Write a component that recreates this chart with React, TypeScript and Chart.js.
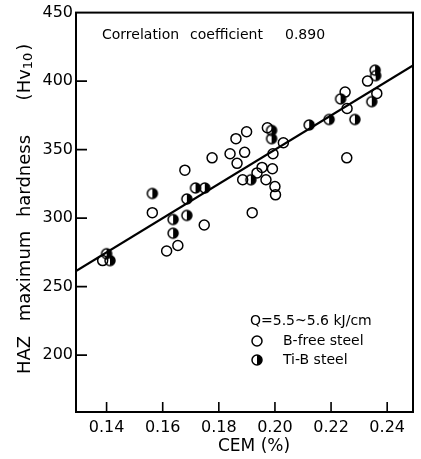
import React, { useEffect, useRef } from "react";
import { Chart, registerables } from "chart.js";

Chart.register(...registerables);

// ---- data ----
const xTickValues = [0.14, 0.16, 0.18, 0.2, 0.22, 0.24];
const yTickValues = [200, 250, 300, 350, 400, 450];

const bFreeX = [0.1386, 0.1563, 0.1614, 0.1654, 0.1679, 0.1748, 0.1776, 0.184, 0.1861, 0.1899, 0.1892, 0.1865, 0.1885, 0.1919, 0.1936, 0.1954, 0.1968, 0.1973, 0.1993, 0.1991, 0.2, 0.2002, 0.203, 0.225, 0.2257, 0.2256, 0.233, 0.2363];
const bFreeY = [269, 304, 276, 280, 335, 295, 344, 347, 358, 363, 348, 340, 328, 304, 333, 337, 328, 366, 347, 336, 323, 317, 355, 392, 380, 344, 400, 391];

const tiBX = [0.14, 0.1412, 0.1563, 0.1637, 0.1637, 0.1686, 0.1686, 0.1717, 0.175, 0.1914, 0.1988, 0.1988, 0.2122, 0.2193, 0.2234, 0.2285, 0.2357, 0.2359, 0.2345];
const tiBY = [274, 269, 318, 299, 289, 314, 302, 322, 322, 328, 364, 358, 368, 372, 387, 372, 408, 404, 385];

const regLineX = [0.1291, 0.2492];
const regLineY = [261.4, 411.4];

const xMin = 0.1291;
const xMax = 0.2492;
const yMin = 158.5;
const yMax = 450;

const correlationLabel = ["Correlation", "coefficient", "0.890"];
const heatInput = "Q=5.5~5.6 kJ/cm";
const seriesNames = ["B-free steel", "Ti-B steel"];
const xTitle = "CEM (%)";
const yTitleWords = ["HAZ", "maximum", "hardness"];

const FONT = "'DejaVu Sans', sans-serif";

function makeHalfCircle(): HTMLCanvasElement {
  const c = document.createElement("canvas");
  c.width = 14;
  c.height = 14;
  const g = c.getContext("2d")!;
  g.beginPath();
  g.arc(7, 7, 5, -Math.PI / 2, Math.PI / 2);
  g.closePath();
  g.fillStyle = "#000";
  g.fill();
  g.beginPath();
  g.arc(7, 7, 5, 0, Math.PI * 2);
  g.lineWidth = 1.5;
  g.strokeStyle = "#000";
  g.stroke();
  return c;
}

export default function App() {
  const ref = useRef<HTMLCanvasElement | null>(null);

  useEffect(() => {
    if (!ref.current) return;
    const half = makeHalfCircle();

    const decor = {
      id: "decor",
      afterDraw(chart: any) {
        const ctx = chart.ctx as CanvasRenderingContext2D;
        const a = chart.chartArea;
        const xs = chart.scales.x;
        const ys = chart.scales.y;
        ctx.save();
        ctx.strokeStyle = "#000";
        ctx.fillStyle = "#000";
        // frame
        ctx.lineWidth = 2;
        ctx.strokeRect(a.left, a.top, a.right - a.left, a.bottom - a.top);
        // inward ticks
        ctx.lineWidth = 1.6;
        ctx.beginPath();
        xTickValues.forEach((v) => {
          const px = xs.getPixelForValue(v);
          ctx.moveTo(px, a.bottom);
          ctx.lineTo(px, a.bottom - 10);
        });
        yTickValues.forEach((v) => {
          if (v >= yMax) return;
          const py = ys.getPixelForValue(v);
          ctx.moveTo(a.left, py);
          ctx.lineTo(a.left + 11, py);
        });
        ctx.stroke();

        // correlation text
        ctx.font = `14px ${FONT}`;
        ctx.textBaseline = "middle";
        ctx.textAlign = "left";
        ctx.fillText(correlationLabel[0], a.left + 26, a.top + 23);
        ctx.fillText(correlationLabel[1], a.left + 114, a.top + 23);
        ctx.fillText(correlationLabel[2], a.left + 209, a.top + 23);

        // legend
        ctx.fillText(heatInput, 250, 321);
        ctx.fillText(seriesNames[0], 283, 341);
        ctx.fillText(seriesNames[1], 283, 360);
        ctx.beginPath();
        ctx.lineWidth = 1.5;
        ctx.arc(257, 341, 5, 0, Math.PI * 2);
        ctx.stroke();
        ctx.drawImage(half, 257 - 7, 360 - 7);

        // x title
        ctx.font = `17px ${FONT}`;
        ctx.textAlign = "center";
        ctx.fillText(xTitle, 254, 447);

        // y title (rotated, word by word)
        ctx.font = `18px ${FONT}`;
        const centers = [355, 276, 176];
        yTitleWords.forEach((w, i) => {
          ctx.save();
          ctx.translate(25, centers[i]);
          ctx.rotate(-Math.PI / 2);
          ctx.textAlign = "center";
          ctx.fillText(w, 0, 0);
          ctx.restore();
        });
        // (Hv10) with subscript
        ctx.save();
        ctx.translate(25, 72);
        ctx.rotate(-Math.PI / 2);
        ctx.textAlign = "left";
        const big = `18px ${FONT}`;
        const small = `13px ${FONT}`;
        ctx.font = big;
        const w1 = ctx.measureText("(Hv").width;
        const w3 = ctx.measureText(")").width;
        ctx.font = small;
        const w2 = ctx.measureText("10").width;
        let x0 = -(w1 + w2 + w3 + 2) / 2;
        ctx.font = big;
        ctx.fillText("(Hv", x0, 0);
        ctx.font = small;
        ctx.fillText("10", x0 + w1, 4);
        ctx.font = big;
        ctx.fillText(")", x0 + w1 + w2 + 2, 0);
        ctx.restore();

        ctx.restore();
      },
    };

    const chart = new Chart(ref.current, {
      type: "scatter",
      data: {
        datasets: [
          {
            label: seriesNames[0],
            data: bFreeX.map((x, i) => ({ x, y: bFreeY[i] })),
            pointStyle: "circle",
            pointRadius: 5,
            borderWidth: 1.5,
            borderColor: "#000",
            backgroundColor: "rgba(0,0,0,0)",
          },
          {
            label: seriesNames[1],
            data: tiBX.map((x, i) => ({ x, y: tiBY[i] })),
            pointStyle: half as any,
            pointRadius: 5,
            borderColor: "#000",
            backgroundColor: "#000",
          },
          {
            label: "regression",
            data: regLineX.map((x, i) => ({ x, y: regLineY[i] })),
            showLine: true,
            pointRadius: 0,
            borderColor: "#000",
            borderWidth: 2.2,
          } as any,
        ],
      },
      options: {
        responsive: false,
        animation: false,
        layout: { padding: { left: 0, top: 12, right: 8, bottom: 0 } },
        plugins: { legend: { display: false }, tooltip: { enabled: false } },
        scales: {
          x: {
            type: "linear",
            min: xMin,
            max: xMax,
            afterBuildTicks: (s: any) => {
              s.ticks = xTickValues.map((v) => ({ value: v }));
            },
            afterFit: (s: any) => {
              s.height = 47;
            },
            grid: { display: false, drawTicks: false },
            border: { display: false },
            ticks: {
              padding: 6,
              color: "#000",
              font: { family: FONT, size: 16 },
              callback: (v: any) => Number(v).toFixed(2),
            },
          },
          y: {
            type: "linear",
            min: yMin,
            max: yMax,
            afterBuildTicks: (s: any) => {
              s.ticks = yTickValues.map((v) => ({ value: v }));
            },
            afterFit: (s: any) => {
              s.width = 76;
            },
            grid: { display: false, drawTicks: false },
            border: { display: false },
            ticks: {
              padding: 3,
              color: "#000",
              font: { family: FONT, size: 16 },
              callback: (v: any) => String(v),
            },
          },
        },
      },
      plugins: [decor],
    });
    return () => chart.destroy();
  }, []);

  return (
    <canvas
      ref={ref}
      width={421}
      height={459}
      style={{ position: "fixed", left: 0, top: 0, display: "block", background: "#fff" }}
    />
  );
}
